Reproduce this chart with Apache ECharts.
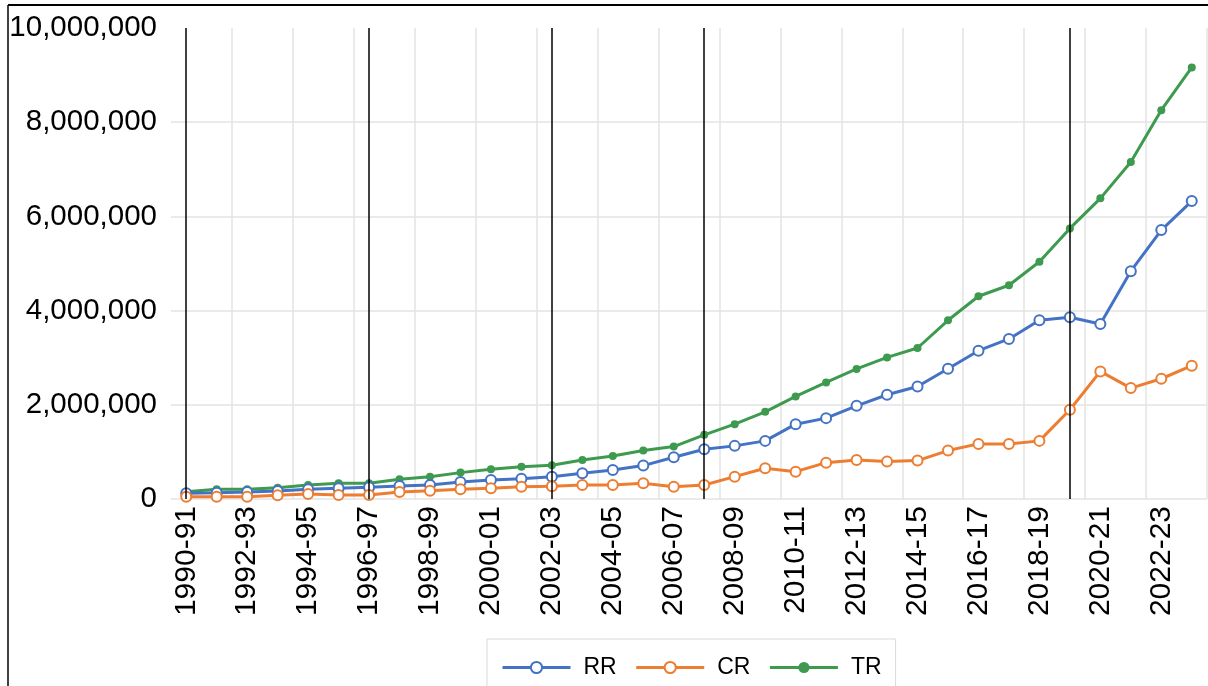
<!DOCTYPE html>
<html>
<head>
<meta charset="utf-8">
<script src="https://cdn.jsdelivr.net/npm/echarts@6/dist/echarts.min.js"></script>
<style>
html,body{margin:0;padding:0;background:#fff;}
#chart{width:1208px;height:686px;}
</style>
</head>
<body>
<div id="chart"></div>
<script>
var categories = ['1990-91','1991-92','1992-93','1993-94','1994-95','1995-96','1996-97','1997-98','1998-99','1999-00',
  '2000-01','2001-02','2002-03','2003-04','2004-05','2005-06','2006-07','2007-08','2008-09','2009-10',
  '2010-11','2011-12','2012-13','2013-14','2014-15','2015-16','2016-17','2017-18','2018-19','2019-20',
  '2020-21','2021-22','2022-23','2023-24'];
var rrValues = [121000,134000,149000,170000,206000,228000,249000,277000,298000,362000,
  404000,432000,474000,547000,617000,709000,887000,1057000,1128000,1234000,
  1589000,1717000,1979000,2213000,2390000,2766000,3149000,3398000,3794000,3858000,
  3717000,4836000,5709000,6326000];
var crValues = [49000,49000,49000,79000,106000,85000,85000,149000,177000,206000,
  228000,262000,270000,298000,298000,334000,262000,298000,474000,653000,
  581000,772000,830000,794000,815000,1028000,1170000,1170000,1234000,1894000,
  2709000,2355000,2553000,2830000];
var trValues = [155000,206000,206000,240000,298000,334000,334000,419000,474000,560000,
  632000,687000,716000,830000,915000,1028000,1113000,1362000,1589000,1851000,
  2177000,2475000,2762000,3006000,3206000,3794000,4304000,4538000,5036000,5745000,
  6383000,7155000,8255000,9164000];
var markerCategories = ['1990-91','1996-97','2002-03','2007-08','2019-20'];
var yTicks = [0, 2000000, 4000000, 6000000, 8000000, 10000000];

var chart = echarts.init(document.getElementById('chart'));
var font = '"Liberation Sans", Arial, sans-serif';
var grid = '#e3e3e3';
var xSplitColors = ['transparent'];
for (var i = 0; i < 40; i++) xSplitColors.push(grid);
var ySplitColors = yTicks.map(function (v, i) { return i === yTicks.length - 1 ? 'transparent' : grid; });

chart.setOption({
  animation: false,
  backgroundColor: '#fff',
  graphic: [
    { type: 'line', shape: { x1: 8, y1: 5, x2: 1208, y2: 5 }, style: { stroke: '#000', lineWidth: 2 } },
    { type: 'line', shape: { x1: 8, y1: 5, x2: 8, y2: 686 }, style: { stroke: '#000', lineWidth: 1.5 } }
  ],
  grid: { left: 171, right: 1, top: 28, bottom: 187, containLabel: false },
  legend: {
    left: 487, top: 639,
    padding: [17, 14, 30, 14],
    borderColor: '#d9d9d9', borderWidth: 1,
    itemWidth: 68, itemHeight: 14, itemGap: 18,
    lineStyle: { width: 3 },
    textStyle: { fontFamily: font, fontSize: 23, color: '#000', padding: [0, 0, 0, 8] },
    data: ['RR', 'CR', 'TR']
  },
  xAxis: {
    type: 'category',
    data: categories,
    boundaryGap: true,
    axisLine: { show: false },
    axisTick: { show: false },
    axisLabel: { interval: 1, rotate: 90, margin: 7, fontFamily: font, fontSize: 30, color: '#000' },
    splitLine: { show: true, interval: 1, lineStyle: { color: xSplitColors, width: 1.5 } }
  },
  yAxis: {
    type: 'value',
    min: 0, max: 10000000, interval: 2000000,
    axisLine: { show: false },
    axisTick: { show: false },
    axisLabel: {
      margin: 14, fontFamily: font, fontSize: 29.5, color: '#000',
      formatter: function (v) { return v.toLocaleString('en-US'); }
    },
    splitLine: { show: true, lineStyle: { color: ySplitColors, width: 1.5 } }
  },
  series: [
    {
      name: 'RR', type: 'line', data: rrValues,
      symbol: 'emptyCircle', symbolSize: 10,
      lineStyle: { color: '#4472C4', width: 3 },
      itemStyle: { color: '#4472C4', borderWidth: 3 },
      z: 3
    },
    {
      name: 'CR', type: 'line', data: crValues,
      symbol: 'emptyCircle', symbolSize: 10,
      lineStyle: { color: '#ED7D31', width: 3 },
      itemStyle: { color: '#ED7D31', borderWidth: 3 },
      z: 4
    },
    {
      name: 'TR', type: 'line', data: trValues,
      symbol: 'circle', symbolSize: 8,
      lineStyle: { color: '#3E9A4F', width: 3 },
      itemStyle: { color: '#3E9A4F' },
      z: 2,
      markLine: {
        silent: true,
        symbol: ['none', 'none'],
        label: { show: false },
        lineStyle: { color: '#000', width: 1.5, type: 'solid' },
        data: markerCategories.map(function (c) { return { xAxis: c }; })
      }
    }
  ]
});
</script>
</body>
</html>
